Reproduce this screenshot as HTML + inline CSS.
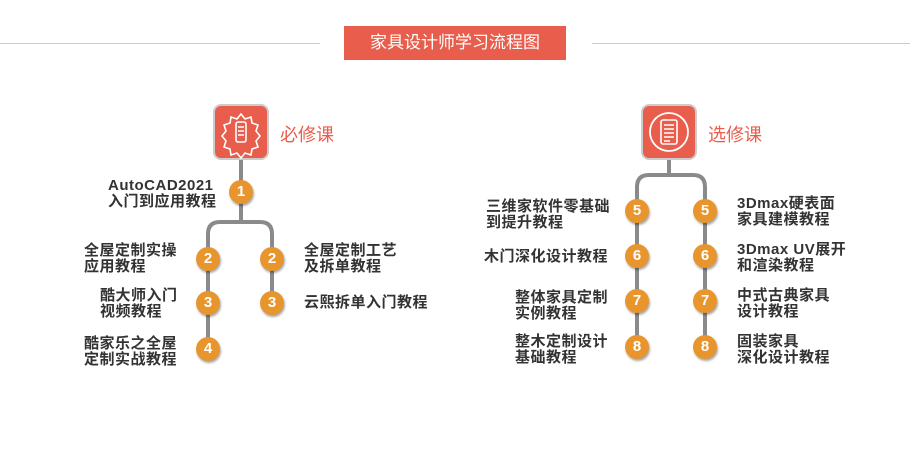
<!DOCTYPE html>
<html><head><meta charset="utf-8"><style>
body{margin:0;width:910px;height:464px;background:#fff;position:relative;overflow:hidden;font-family:"Liberation Sans","Noto Sans CJK SC",sans-serif;}
.a{position:absolute}
.t{position:absolute;font-size:15px;letter-spacing:0.5px;line-height:16px;color:#333;font-weight:bold;white-space:nowrap}
.c{position:absolute;width:24px;height:24px;border-radius:50%;background:#e8952d;color:#fff;font-weight:bold;font-size:15px;line-height:24px;text-align:center;box-shadow:1px 2px 2px rgba(0,0,0,.35)}
</style></head><body>
<div class="a" style="left:0;top:43px;width:320px;height:1px;background:#ccc"></div>
<div class="a" style="left:592px;top:43px;width:318px;height:1px;background:#ccc"></div>
<div class="a" style="left:344px;top:26px;width:222px;height:34px;background:#e85d4b;color:#fff;font-size:17px;line-height:34px;text-align:center">家具设计师学习流程图</div>
<svg class="a" style="left:0;top:0" width="910" height="464">
<g stroke="#8a8a8a" stroke-width="4" fill="none">
<path d="M241 158V192M241 192V222"/>
<path d="M208 259V234Q208 222 220 222H260Q272 222 272 234V259"/>
<path d="M208 259V349M272 259V303"/>
<path d="M669 158V175"/>
<path d="M637 211V187Q637 175 649 175H693Q705 175 705 187V211"/>
<path d="M637 211V347M705 211V347"/>
</g>
<rect x="214" y="105" width="54" height="54" rx="7" fill="#e85d4b" stroke="#ccc" stroke-width="2"/>
<g stroke="#fff" stroke-width="1.6" fill="none">
<path d="M241 114l4 5 6-2 1 6 6 2-2 6 4 5-4 5 2 6-6 2-1 6-6-2-4 5-4-5-6 2-1-6-6-2 2-6-4-5 4-5-2-6 6-2 1-6 6 2z"/>
<rect x="236" y="122" width="10" height="20" rx="2"/><path d="M238 127h6M238 131h6M238 135h6"/>
</g>
<rect x="642" y="105" width="54" height="54" rx="7" fill="#e85d4b" stroke="#ccc" stroke-width="2"/>
<circle cx="669" cy="132" r="19" stroke="#fff" stroke-width="1.8" fill="none"/>
<rect x="661" y="120" width="16" height="24" rx="2" stroke="#fff" stroke-width="1.6" fill="none"/>
<path d="M664 125h10M664 129h10M664 133h10M664 137h10M664 141h6" stroke="#fff" stroke-width="1.4"/>
</svg>
<div class="a" style="left:280px;top:121px;font-size:18px;color:#e85d4b">必修课</div>
<div class="a" style="left:708px;top:121px;font-size:18px;color:#e85d4b">选修课</div>
<div class="c" style="left:229px;top:180px">1</div>
<div class="c" style="left:196px;top:247px">2</div>
<div class="c" style="left:260px;top:247px">2</div>
<div class="c" style="left:196px;top:291px">3</div>
<div class="c" style="left:260px;top:291px">3</div>
<div class="c" style="left:196px;top:337px">4</div>
<div class="c" style="left:625px;top:199px">5</div>
<div class="c" style="left:693px;top:199px">5</div>
<div class="c" style="left:625px;top:244px">6</div>
<div class="c" style="left:693px;top:244px">6</div>
<div class="c" style="left:625px;top:289px">7</div>
<div class="c" style="left:693px;top:289px">7</div>
<div class="c" style="left:625px;top:335px">8</div>
<div class="c" style="left:693px;top:335px">8</div>
<div class="t" style="left:108px;top:178px">AutoCAD2021<br>入门到应用教程</div>
<div class="t" style="left:84px;top:243px">全屋定制实操<br>应用教程</div>
<div class="t" style="left:100px;top:288px">酷大师入门<br>视频教程</div>
<div class="t" style="left:84px;top:336px">酷家乐之全屋<br>定制实战教程</div>
<div class="t" style="left:304px;top:243px">全屋定制工艺<br>及拆单教程</div>
<div class="t" style="left:304px;top:295px">云熙拆单入门教程</div>
<div class="t" style="left:486px;top:199px">三维家软件零基础<br>到提升教程</div>
<div class="t" style="left:484px;top:249px">木门深化设计教程</div>
<div class="t" style="left:515px;top:290px">整体家具定制<br>实例教程</div>
<div class="t" style="left:515px;top:334px">整木定制设计<br>基础教程</div>
<div class="t" style="left:737px;top:196px">3Dmax硬表面<br>家具建模教程</div>
<div class="t" style="left:737px;top:242px">3Dmax UV展开<br>和渲染教程</div>
<div class="t" style="left:737px;top:288px">中式古典家具<br>设计教程</div>
<div class="t" style="left:737px;top:334px">固装家具<br>深化设计教程</div>
</body></html>
